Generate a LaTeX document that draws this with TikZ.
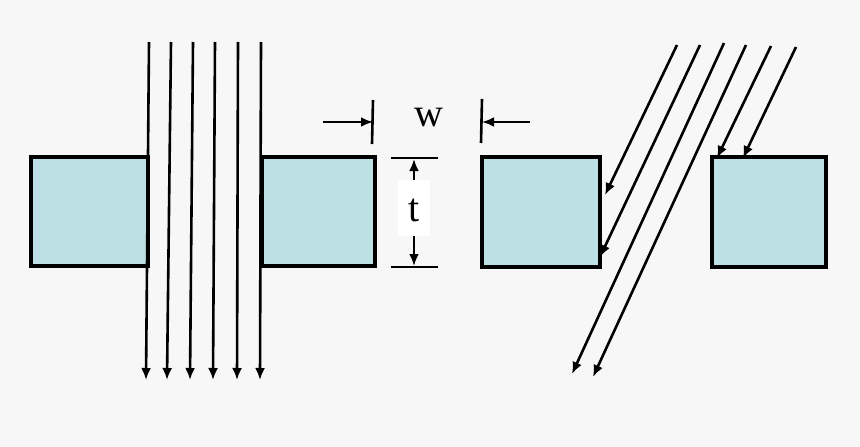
\documentclass[tikz,border=0pt]{standalone}
\usepackage{fontspec}
\setmainfont{Liberation Serif}
\usetikzlibrary{arrows.meta}
\begin{document}
\begin{tikzpicture}[x=1pt,y=-1pt,
  blk/.style={draw=black,line width=3.2pt,fill=boxc},
  ray/.style={line width=2.6pt,-{Latex[length=12pt,width=10pt]}},
  dim/.style={line width=2.6pt}]
\definecolor{boxc}{HTML}{BCE0E3}
\fill[fill={rgb,255:red,247;green,247;blue,247}] (0,0) rectangle (860,447);
\useasboundingbox (0,0) rectangle (860,447);
\draw[blk] (31,157) rectangle (148,266);
\draw[blk] (262,157) rectangle (375,266);
\draw[blk] (482,157) rectangle (600,267);
\draw[blk] (712,157) rectangle (826,267);
% vertical rays
\foreach \a/\b in {149/146,171/167,193/190,215/213,238/237,261/260}
  \draw[ray] (\a,42) -- (\b,380);
% oblique rays
\coordinate (s1) at (677,45); \coordinate (e1) at (605,195);
\coordinate (s2) at (700,45); \coordinate (e2) at (600,257);
\coordinate (s3) at (724,43); \coordinate (e3) at (572,374);
\coordinate (s4) at (746,45); \coordinate (e4) at (593,377);
\coordinate (s5) at (771,46); \coordinate (e5) at (717,158);
\coordinate (s6) at (796,47); \coordinate (e6) at (743,158);
\foreach \i in {1,...,6} \draw[ray] (s\i) -- (e\i);
% w dimension
\coordinate (wl) at (373,122); \coordinate (wr) at (482,122);
\draw[dim] (373,100) -- (372,144);
\draw[dim] (482,99) -- (481,143);
\draw[dim,-{Latex[length=12pt,width=10pt]}] (323,122) -- (wl);
\draw[dim,-{Latex[length=12pt,width=10pt]}] (530,122) -- (wr);
\node[font=\fontsize{40}{40}\selectfont] (w) at (429,118) {w};
% t dimension
\draw[dim] (391,158) -- (438,158);
\draw[dim] (391,267) -- (438,267);
\node[fill=white,minimum width=32pt,minimum height=56pt,inner sep=0pt] (t) at (414,208) {};
\node[font=\fontsize{40}{40}\selectfont] at (414,210) {t};
\coordinate (tt) at (414,159); \coordinate (tb) at (414,266);
\draw[dim,-{Latex[length=12pt,width=10pt]}] (t.north) -- (tt);
\draw[dim,-{Latex[length=12pt,width=10pt]}] (t.south) -- (tb);
\end{tikzpicture}
\end{document}
